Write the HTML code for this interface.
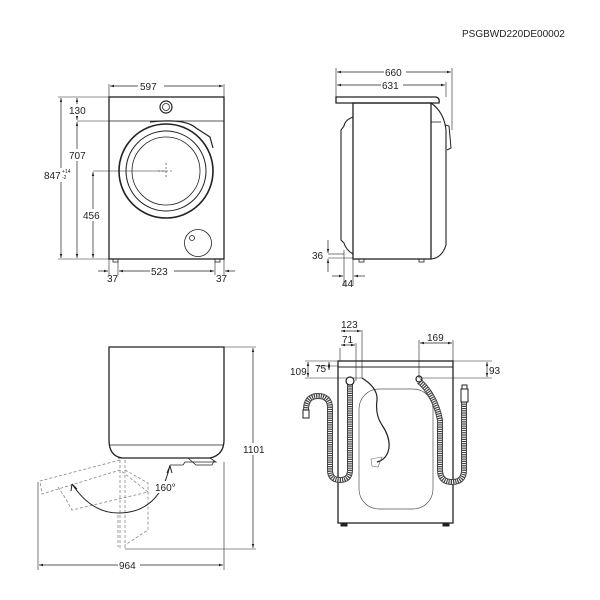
<!DOCTYPE html>
<html><head><style>
html,body{margin:0;padding:0;background:#fff;}
svg{display:block;font-family:"Liberation Sans",Arial,sans-serif;}
text{font-size:10px;fill:#222;}
text.s{font-size:5px;}
</style></head><body>
<svg width="600" height="600" viewBox="0 0 600 600" xmlns="http://www.w3.org/2000/svg">
<defs>
<marker id="a" viewBox="0 0 10 10" refX="10" refY="5" markerWidth="6" markerHeight="6" orient="auto-start-reverse"><path d="M0,2 L10,5 L0,8 z" fill="#222"/></marker>
</defs>
<text x="462" y="37">PSGBWD220DE00002</text>

<!-- FRONT VIEW -->
<g stroke="#222" fill="none">
<rect x="109" y="97" width="115" height="162" stroke-width="1.3"/>
<line x1="109" y1="121" x2="224" y2="121" stroke-width="0.8"/>
<circle cx="166" cy="107" r="6" stroke-width="1.2"/>
<circle cx="166" cy="107" r="3.5" stroke-width="0.8"/>
<path d="M150,122 Q185,118 196,128 L210,137 L213,148" stroke-width="1.2"/>
<circle cx="166" cy="171" r="47" stroke-width="1.6"/>
<circle cx="166" cy="171" r="40" stroke-width="1"/>
<circle cx="166" cy="171" r="34" stroke-width="0.8"/>
<path d="M158,171 H174 M166,163 V179" stroke-width="0.6" stroke-dasharray="2 2"/>
<circle cx="198" cy="243" r="13.5" stroke-width="0.8"/>
<circle cx="192" cy="238" r="2.5" stroke-width="0.8"/>
<rect x="113" y="259" width="5" height="3" stroke-width="0.8"/>
<rect x="215" y="259" width="5" height="3" stroke-width="0.8"/>
<g stroke-width="0.6">
<line x1="109" y1="97" x2="109" y2="84"/><line x1="224" y1="97" x2="224" y2="84"/>
<line x1="58" y1="97" x2="109" y2="97"/><line x1="58" y1="259" x2="109" y2="259"/>
<line x1="77" y1="121" x2="109" y2="121"/><line x1="93" y1="171" x2="166" y2="171"/>
<line x1="109" y1="259" x2="109" y2="275"/><line x1="224" y1="259" x2="224" y2="275"/>
<line x1="118" y1="262" x2="118" y2="275"/><line x1="215" y1="262" x2="215" y2="275"/>
</g>
<g stroke-width="0.7" marker-start="url(#a)" marker-end="url(#a)">
<line x1="110" y1="86" x2="223" y2="86"/>
<line x1="61" y1="98" x2="61" y2="258"/>
<line x1="77" y1="98" x2="77" y2="120"/>
<line x1="77" y1="122" x2="77" y2="258"/>
<line x1="93" y1="172" x2="93" y2="258"/>
<line x1="119" y1="271" x2="214" y2="271"/>
</g>
<g stroke-width="0.7">
<line x1="98" y1="271" x2="108" y2="271" marker-end="url(#a)"/>
<line x1="235" y1="271" x2="225" y2="271" marker-end="url(#a)"/>
</g>
</g>
<rect x="138" y="80" width="26" height="12" fill="#fff"/>
<text x="140" y="90">597</text>
<rect x="68" y="104" width="20" height="12" fill="#fff"/>
<text x="69" y="114">130</text>
<rect x="68" y="149" width="20" height="12" fill="#fff"/>
<text x="69" y="159">707</text>
<rect x="43" y="168" width="28" height="14" fill="#fff"/>
<text x="44" y="179">847</text>
<text class="s" x="62" y="173">+14</text>
<text class="s" x="62" y="179">-2</text>
<rect x="83" y="209" width="20" height="12" fill="#fff"/>
<text x="83" y="219">456</text>
<rect x="150" y="265" width="24" height="12" fill="#fff"/>
<text x="151" y="275">523</text>
<text x="107" y="282">37</text>
<text x="216" y="282">37</text>

<!-- SIDE VIEW -->
<g stroke="#222" fill="none">
<path d="M336,97 H436 Q440,98 439,103 H336 Z" stroke-width="1.3"/>
<rect x="353" y="103" width="78" height="156" stroke-width="1.3"/>
<line x1="431" y1="122" x2="441" y2="122" stroke-width="0.8"/>
<path d="M431,103 Q444,112 446,130 L446,245 Q442,258 431,259" stroke-width="1.1"/>
<path d="M445,125 L449,126 L451,148 L447,150" stroke-width="1"/>
<path d="M353,117 Q345,120 344,126 L341,130 L341,240 L344,243 Q346,250 353,254" stroke-width="1.1"/>
<rect x="359" y="259" width="5" height="3" stroke-width="0.8"/>
<rect x="419" y="259" width="5" height="3" stroke-width="0.8"/>
<g stroke-width="0.6">
<line x1="336" y1="97" x2="336" y2="68"/><line x1="452" y1="130" x2="452" y2="68"/>
<line x1="446" y1="97" x2="446" y2="82"/>
<line x1="328" y1="254" x2="344" y2="254"/><line x1="328" y1="258" x2="353" y2="258"/>
<line x1="344" y1="250" x2="344" y2="286"/><line x1="353" y1="259" x2="353" y2="286"/>
</g>
<g stroke-width="0.7" marker-start="url(#a)" marker-end="url(#a)">
<line x1="337" y1="72" x2="451" y2="72"/>
<line x1="337" y1="85" x2="445" y2="85"/>
</g>
<g stroke-width="0.7">
<line x1="328" y1="240" x2="328" y2="253" marker-end="url(#a)"/>
<line x1="328" y1="272" x2="328" y2="259" marker-end="url(#a)"/>
<line x1="332" y1="276" x2="343" y2="276" marker-end="url(#a)"/>
<line x1="365" y1="276" x2="354" y2="276" marker-end="url(#a)"/>
</g>
</g>
<rect x="384" y="66" width="22" height="12" fill="#fff"/>
<text x="385" y="76">660</text>
<rect x="381" y="79" width="22" height="12" fill="#fff"/>
<text x="382" y="89">631</text>
<text x="312" y="259">36</text>
<text x="342" y="287">44</text>

<!-- TOP VIEW -->
<g stroke="#222" fill="none">
<path d="M109,347 H224 V440 Q224,455 210,458 H122 Q109,456 109,440 Z" stroke-width="1.3"/>
<line x1="109" y1="445" x2="224" y2="445" stroke-width="0.8"/>
<path d="M118,458 H210 L216,462 H185 L183,465 H170" stroke-width="0.8"/>
<path d="M188,458 L196,465 H212 L214,461" stroke-width="0.8"/>
<g stroke-width="0.6">
<line x1="224" y1="347" x2="256" y2="347"/>
<line x1="125" y1="549" x2="256" y2="549"/>
<line x1="224" y1="462" x2="224" y2="570"/>
<line x1="38" y1="482" x2="38" y2="570"/>
</g>
<g stroke="#888" stroke-width="0.8" stroke-dasharray="3 2">
<path d="M120,460 L40,481 L42,494 L120,470"/>
<path d="M58,487 L64,496 L72,510 L148,492 L120,470"/>
<path d="M125,460 V549"/>
<path d="M120,460 V549"/>
<path d="M125,470 L148,483 V530 L125,545"/>
<path d="M118,515 V547"/>
</g>
<path d="M72,484 Q92,514 120,513 Q160,512 170,465" stroke-width="1"/>
<path d="M170,466 L167,473 M170,466 L172,473" stroke-width="1"/>
<path d="M72,484 L71,491 M72,484 L77,489" stroke-width="1"/>
<g stroke-width="0.7" marker-start="url(#a)" marker-end="url(#a)">
<line x1="253" y1="348" x2="253" y2="548"/>
<line x1="39" y1="565" x2="223" y2="565"/>
</g>
</g>
<rect x="154" y="481" width="24" height="12" fill="#fff"/>
<text x="155" y="491">160°</text>
<rect x="241" y="443" width="26" height="12" fill="#fff"/>
<text x="243" y="453">1101</text>
<rect x="118" y="559" width="22" height="12" fill="#fff"/>
<text x="119" y="569">964</text>

<!-- BACK VIEW -->
<g stroke="#222" fill="none">
<rect x="338" y="361" width="115" height="162" stroke-width="1.3"/>
<line x1="338" y1="367" x2="453" y2="367" stroke-width="1"/>
<rect x="359" y="389" width="74" height="120" rx="20" stroke-width="0.7" stroke="#555"/>
<rect x="341" y="523" width="6" height="3" fill="#222"/>
<rect x="443" y="523" width="6" height="3" fill="#222"/>
<g stroke-width="0.6">
<line x1="340" y1="348" x2="340" y2="361"/><line x1="356" y1="343" x2="356" y2="381"/>
<line x1="362" y1="330" x2="362" y2="378"/>
<line x1="419" y1="340" x2="419" y2="378"/><line x1="453" y1="340" x2="453" y2="361"/>
<line x1="305" y1="361" x2="338" y2="361"/><line x1="305" y1="378" x2="362" y2="378"/>
<line x1="317" y1="366" x2="338" y2="366"/>
<line x1="453" y1="361" x2="492" y2="361"/><line x1="419" y1="378" x2="492" y2="378"/>
</g>
<g stroke-width="0.7" marker-start="url(#a)" marker-end="url(#a)">
<line x1="341" y1="331" x2="361" y2="331"/>
<line x1="341" y1="345" x2="355" y2="345"/>
<line x1="420" y1="343" x2="452" y2="343"/>
<line x1="308" y1="362" x2="308" y2="377"/>
<line x1="329" y1="362" x2="329" y2="370"/>
<line x1="487" y1="362" x2="487" y2="377"/>
</g>
<g stroke="#444" stroke-width="6">
<path d="M350,383 V470 Q350,480 340,480 Q330,480 330,470 V408 Q330,396 318,396 Q306,396 306,410"/>
<path d="M419,381 Q435,395 440,420 V470 Q440,482 452,482 Q464,482 464,470 V402"/>
</g>
<g stroke="#fff" stroke-width="4" stroke-dasharray="1 1.2">
<path d="M350,383 V470 Q350,480 340,480 Q330,480 330,470 V408 Q330,396 318,396 Q306,396 306,410"/>
<path d="M419,381 Q435,395 440,420 V470 Q440,482 452,482 Q464,482 464,470 V402"/>
</g>
<rect x="303" y="410" width="6" height="8" stroke-width="1" fill="#fff"/>
<rect x="461" y="389" width="7" height="13" stroke-width="1" fill="#fff"/>
<rect x="462" y="385" width="5" height="4" stroke-width="1" fill="#fff"/>
<circle cx="350" cy="381" r="4" stroke-width="1.2" fill="#fff"/>
<circle cx="419" cy="379" r="3" stroke-width="1.2"/>
<path d="M362,378 Q378,388 377,400 Q375,415 382,425 Q392,440 388,452 Q385,460 377,462" stroke-width="1.2"/>
<path d="M371,459 L382,457 L378,467 L372,466 Z" stroke-width="0.6" stroke="#666"/>
</g>
<text x="341" y="328">123</text>
<text x="342" y="343">71</text>
<text x="427" y="341">169</text>
<text x="290" y="375">109</text>
<text x="315" y="372">75</text>
<text x="489" y="374">93</text>
</svg>
</body></html>
